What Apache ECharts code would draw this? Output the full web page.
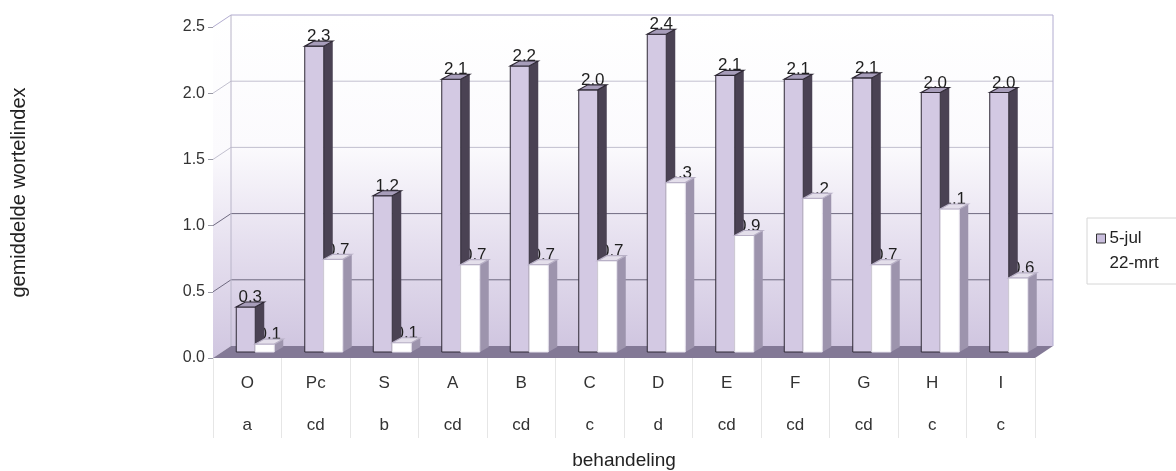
<!DOCTYPE html>
<html>
<head>
<meta charset="utf-8">
<script src="https://cdn.jsdelivr.net/npm/echarts@6/dist/echarts.min.js"></script>
<style>
  html, body { margin: 0; padding: 0; background: #ffffff; }
  #chart { width: 1176px; height: 471px; }
</style>
</head>
<body>
<div id="chart"></div>
<script>
// Treatments, significance groups and mean root index per sampling date
const categories = ['O', 'Pc', 'S', 'A', 'B', 'C', 'D', 'E', 'F', 'G', 'H', 'I'];
const groups = ['a', 'cd', 'b', 'cd', 'cd', 'c', 'd', 'cd', 'cd', 'cd', 'c', 'c'];
const jul5 = [0.34, 2.31, 1.18, 2.06, 2.16, 1.98, 2.40, 2.09, 2.06, 2.07, 1.96, 1.96];
const mrt22 = [0.06, 0.70, 0.07, 0.66, 0.66, 0.69, 1.28, 0.88, 1.16, 0.66, 1.08, 0.56];
const yTicks = [0, 0.5, 1.0, 1.5, 2.0, 2.5];
const seriesNames = ['5-jul', '22-mrt'];

const FONT = '"Liberation Sans", Arial, sans-serif';

// pseudo-3D geometry: back wall offset and bar placement/depth
const DX = 18, DY = -12;      // back wall relative to front plane
const FX = 8, FY = -6;        // bar front face relative to front plane
const SX = 9, SY = -5;        // bar depth
const BAR_W = 19;

const styles = [
  { front: '#d3c9e3', side: '#4a4253', top: '#a79dba', edge: '#2e2834', topEdge: '#2e2834' },
  { front: '#ffffff', side: '#9d94ad', top: '#e4dfeb', edge: '#e8e4ee', topEdge: '#b8b0c6' }
];

function barBox(api, s, i, v) {
  const base = api.coord([i, 0]);
  const top = api.coord([i, v]);
  const xL = base[0] + FX + (s === 0 ? -BAR_W : 0);
  return { xL: xL, xR: xL + BAR_W, yB: base[1] + FY, yT: top[1] + FY };
}

function renderBar(s) {
  return function (params, api) {
    const b = barBox(api, s, api.value(0), api.value(1));
    const st = styles[s];
    return {
      type: 'group',
      children: [
        { type: 'polygon',
          shape: { points: [[b.xR, b.yT], [b.xR + SX, b.yT + SY], [b.xR + SX, b.yB + SY], [b.xR, b.yB]] },
          style: { fill: st.side } },
        { type: 'rect',
          shape: { x: b.xL, y: b.yT, width: BAR_W, height: b.yB - b.yT },
          style: { fill: st.front, stroke: st.edge, lineWidth: 1 } },
        { type: 'polygon',
          shape: { points: [[b.xL, b.yT], [b.xR, b.yT], [b.xR + SX, b.yT + SY], [b.xL + SX, b.yT + SY]] },
          style: { fill: st.top, stroke: st.topEdge, lineWidth: 1.2 } }
      ]
    };
  };
}

// value labels sit behind the columns
function renderLabel(params, api) {
  const s = api.value(2);
  const v = api.value(1);
  const b = barBox(api, s, api.value(0), v);
  return {
    type: 'text',
    style: {
      x: (b.xL + b.xR) / 2 + SX / 2,
      y: b.yT + SY / 2 - 7,
      text: v.toFixed(1),
      fill: '#1e1e1e',
      font: '17px ' + FONT,
      align: 'center',
      verticalAlign: 'middle'
    }
  };
}

// walls, floor and gridlines of the 3D frame
function renderFrame(params, api) {
  const cs = params.coordSys;
  const x0 = cs.x, x1 = cs.x + cs.width;
  const yF = function (v) { return api.coord([0, v])[1]; };
  const yBot = yF(0), yTop = yF(2.5);
  const grad = {
    type: 'linear', x: 0, y: 0, x2: 0, y2: 1,
    colorStops: [
      { offset: 0, color: '#ffffff' },
      { offset: 0.4, color: '#fbfafd' },
      { offset: 0.68, color: '#e6e0ef' },
      { offset: 1, color: '#d0c6e0' }
    ]
  };
  const children = [
    { type: 'polygon',
      shape: { points: [[x0 + DX, yTop + DY], [x1 + DX, yTop + DY], [x1 + DX, yBot + DY], [x0 + DX, yBot + DY]] },
      style: { fill: grad } },
    { type: 'polygon',
      shape: { points: [[x0, yTop], [x0 + DX, yTop + DY], [x0 + DX, yBot + DY], [x0, yBot]] },
      style: { fill: grad } }
  ];
  yTicks.forEach(function (v) {
    if (v === 0) return;
    const y = yF(v);
    const c = v >= 1.5 ? '#c2c0cf' : '#6f6a80';
    children.push({ type: 'line', shape: { x1: x0 + DX, y1: y + DY, x2: x1 + DX, y2: y + DY },
      style: { stroke: v === 2.5 ? '#b2acd0' : c, lineWidth: 1 } });
    children.push({ type: 'line', shape: { x1: x0, y1: y, x2: x0 + DX, y2: y + DY },
      style: { stroke: v === 2.5 ? '#b2acd0' : c, lineWidth: 1 } });
  });
  children.push({ type: 'line', shape: { x1: x0 + DX, y1: yTop + DY, x2: x0 + DX, y2: yBot + DY },
    style: { stroke: '#b8b4c8', lineWidth: 1 } });
  children.push({ type: 'line', shape: { x1: x1 + DX, y1: yTop + DY, x2: x1 + DX, y2: yBot + DY },
    style: { stroke: '#b2acd0', lineWidth: 1 } });
  children.push({ type: 'polygon',
    shape: { points: [[x0, yBot], [x0 + DX, yBot + DY], [x1 + DX, yBot + DY], [x1, yBot]] },
    style: { fill: '#837996' } });
  return { type: 'group', children: children };
}

const labelData = [];
jul5.forEach(function (v, i) { labelData.push([i, v, 0]); });
mrt22.forEach(function (v, i) { labelData.push([i, v, 1]); });

const chart = echarts.init(document.getElementById('chart'), null, { renderer: 'canvas' });
chart.setOption({
  animation: false,
  backgroundColor: '#ffffff',
  textStyle: { fontFamily: FONT },
  grid: { left: 213, right: 141, top: 27, bottom: 113, outerBoundsMode: 'none' },
  legend: {
    orient: 'vertical',
    left: 1087,
    top: 218,
    padding: [12, 40, 12, 9],
    borderColor: '#d6d6d6',
    borderWidth: 1,
    itemWidth: 9,
    itemHeight: 9,
    itemGap: 8,
    icon: 'rect',
    textStyle: { fontSize: 17, color: '#222', fontFamily: FONT, padding: [0, 0, 0, -1] },
    data: [
      { name: seriesNames[0], itemStyle: { color: '#c9bedd', borderColor: '#333', borderWidth: 1 } },
      { name: seriesNames[1], itemStyle: { color: '#ffffff', borderColor: '#ffffff', borderWidth: 0 } }
    ]
  },
  xAxis: {
    type: 'category',
    data: categories,
    name: 'behandeling',
    nameLocation: 'middle',
    nameGap: 91,
    nameTextStyle: { fontSize: 19, color: '#222', fontFamily: FONT },
    axisLine: { show: false },
    axisTick: { show: true, length: 80, lineStyle: { color: '#e6e6e6' } },
    axisLabel: {
      margin: 4,
      fontSize: 17,
      color: '#333',
      lineHeight: 42,
      fontFamily: FONT,
      formatter: function (val, idx) { return val + '\n' + groups[idx]; }
    },
    splitLine: { show: false }
  },
  yAxis: {
    type: 'value',
    min: 0,
    max: 2.5,
    interval: 0.5,
    name: 'gemiddelde wortelindex',
    nameLocation: 'middle',
    nameRotate: 90,
    nameGap: 184,
    nameTextStyle: { fontSize: 20, color: '#222', fontFamily: FONT },
    axisLine: { show: true, lineStyle: { color: '#d0d0d8' } },
    axisTick: { show: true, length: 5, lineStyle: { color: '#9a9aa6' } },
    axisLabel: {
      margin: 8,
      fontSize: 16,
      color: '#333',
      fontFamily: FONT,
      formatter: function (v) { return v.toFixed(1); }
    },
    splitLine: { show: false }
  },
  series: [
    { type: 'custom', name: 'frame', z: 1, silent: true, data: [[0, 0]],
      renderItem: renderFrame, encode: { x: 0, y: 1 } },
    { type: 'custom', name: 'labels', z: 2, silent: true, data: labelData,
      renderItem: renderLabel, encode: { x: 0, y: 1 } },
    { type: 'custom', name: seriesNames[0], z: 3,
      itemStyle: { color: '#c9bedd' },
      data: jul5.map(function (v, i) { return [i, v]; }),
      renderItem: renderBar(0), encode: { x: 0, y: 1 } },
    { type: 'custom', name: seriesNames[1], z: 4,
      itemStyle: { color: '#ffffff' },
      data: mrt22.map(function (v, i) { return [i, v]; }),
      renderItem: renderBar(1), encode: { x: 0, y: 1 } }
  ]
});
</script>
</body>
</html>
